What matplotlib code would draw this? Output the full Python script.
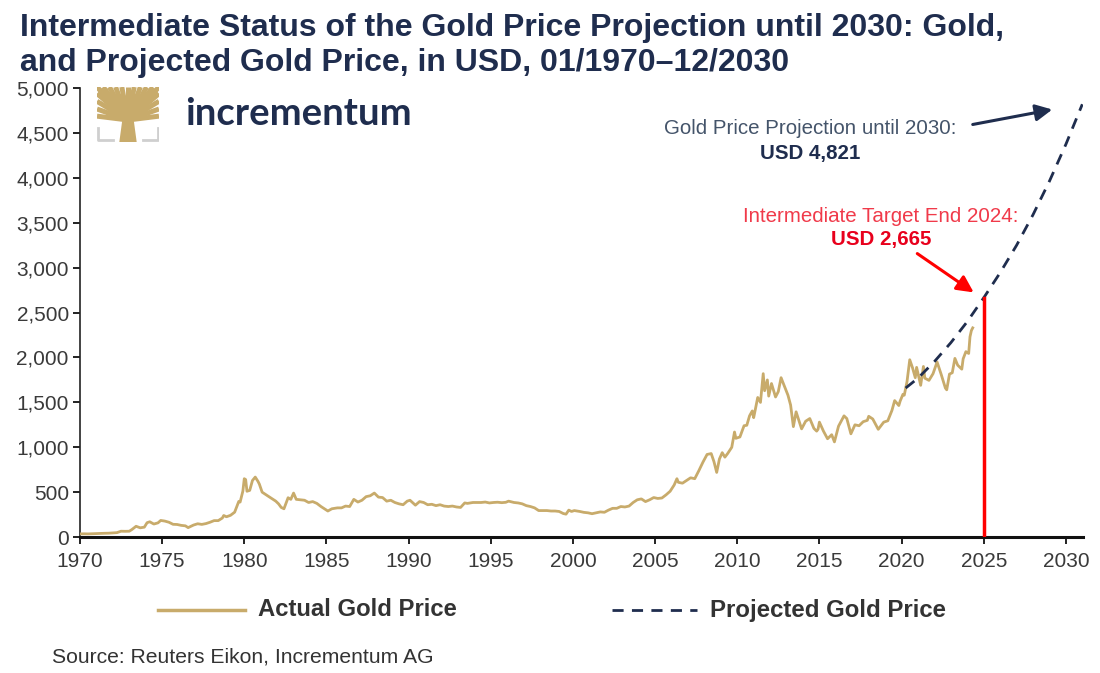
import matplotlib
matplotlib.use("Agg")
import matplotlib.pyplot as plt
from matplotlib.patches import Polygon, Rectangle
from matplotlib.lines import Line2D
import pandas as pd

# ---------------- data ----------------
gold_months = [
    "1970-01", "1970-04", "1970-07", "1970-10",
    "1971-01", "1971-04", "1971-07", "1971-10",
    "1972-01", "1972-04", "1972-07", "1972-10",
    "1973-01", "1973-03", "1973-06", "1973-09", "1973-12",
    "1974-02", "1974-04", "1974-07", "1974-10", "1974-12",
    "1975-03", "1975-06", "1975-09", "1975-12",
    "1976-03", "1976-06", "1976-08", "1976-12",
    "1977-03", "1977-06", "1977-09", "1977-12",
    "1978-03", "1978-06", "1978-09", "1978-10", "1978-12",
    "1979-03", "1979-06", "1979-09", "1979-10", "1979-12",
    "1980-01", "1980-02", "1980-03", "1980-05", "1980-07", "1980-09", "1980-11", "1980-12",
    "1981-02", "1981-04", "1981-06", "1981-09", "1981-12",
    "1982-02", "1982-04", "1982-06", "1982-09", "1982-11",
    "1983-01", "1983-03", "1983-06", "1983-09", "1983-12",
    "1984-03", "1984-06", "1984-09", "1984-12",
    "1985-02", "1985-05", "1985-09", "1985-12",
    "1986-03", "1986-06", "1986-09", "1986-12",
    "1987-03", "1987-06", "1987-09", "1987-12",
    "1988-03", "1988-06", "1988-09", "1988-12",
    "1989-03", "1989-06", "1989-09", "1989-12",
    "1990-02", "1990-06", "1990-09", "1990-12",
    "1991-03", "1991-06", "1991-09", "1991-12",
    "1992-03", "1992-06", "1992-09", "1992-12",
    "1993-03", "1993-06", "1993-08", "1993-12",
    "1994-03", "1994-06", "1994-09", "1994-12",
    "1995-03", "1995-06", "1995-09", "1995-12",
    "1996-02", "1996-06", "1996-09", "1996-12",
    "1997-03", "1997-06", "1997-09", "1997-12",
    "1998-03", "1998-06", "1998-09", "1998-12",
    "1999-03", "1999-06", "1999-08", "1999-10", "1999-12",
    "2000-02", "2000-06", "2000-09", "2000-12",
    "2001-03", "2001-06", "2001-09", "2001-12",
    "2002-03", "2002-06", "2002-09", "2002-12",
    "2003-03", "2003-06", "2003-09", "2003-12",
    "2004-03", "2004-06", "2004-09", "2004-12",
    "2005-03", "2005-06", "2005-09", "2005-12",
    "2006-03", "2006-05", "2006-06", "2006-09", "2006-12",
    "2007-03", "2007-06", "2007-09", "2007-12",
    "2008-03", "2008-06", "2008-08", "2008-10", "2008-12",
    "2009-02", "2009-04", "2009-06", "2009-09", "2009-11", "2009-12",
    "2010-03", "2010-06", "2010-08", "2010-10", "2010-12",
    "2011-01", "2011-04", "2011-06", "2011-08", "2011-09", "2011-11", "2011-12",
    "2012-02", "2012-05", "2012-07", "2012-09", "2012-12",
    "2013-02", "2013-04", "2013-06", "2013-08", "2013-12",
    "2014-03", "2014-06", "2014-09", "2014-11", "2014-12",
    "2015-01", "2015-04", "2015-07", "2015-10", "2015-12",
    "2016-03", "2016-07", "2016-09", "2016-12",
    "2017-03", "2017-06", "2017-09", "2017-12",
    "2018-01", "2018-04", "2018-08", "2018-12",
    "2019-03", "2019-06", "2019-08", "2019-11", "2019-12",
    "2020-02", "2020-03", "2020-05", "2020-07", "2020-09", "2020-11", "2020-12",
    "2021-03", "2021-05", "2021-06", "2021-09", "2021-12",
    "2022-03", "2022-06", "2022-09", "2022-10", "2022-12",
    "2023-02", "2023-04", "2023-06", "2023-09", "2023-10", "2023-12",
    "2024-02", "2024-03", "2024-04", "2024-05",
]
gold_usd = [
    35, 36, 35, 37,
    38, 40, 42, 43,
    46, 49, 65, 64,
    65, 84, 120, 103, 110,
    160, 170, 145, 158, 185,
    178, 165, 142, 140,
    130, 125, 105, 134,
    148, 141, 150, 165,
    183, 183, 212, 240, 226,
    242, 277, 397, 390, 512,
    650, 640, 510, 520, 630, 668, 620, 590,
    500, 480, 460, 430, 400,
    370, 330, 315, 438, 420,
    490, 420, 415, 410, 385,
    395, 375, 340, 310,
    290, 315, 325, 325,
    345, 340, 420, 390,
    410, 450, 460, 490,
    445, 440, 400, 410,
    385, 370, 360, 400,
    410, 355, 395, 385,
    360, 365, 350, 360,
    345, 340, 345, 335,
    330, 380, 375, 385,
    385, 385, 390, 380,
    385, 388, 383, 387,
    400, 385, 380, 370,
    350, 340, 325, 295,
    295, 295, 290, 290,
    285, 262, 255, 300, 285,
    295, 285, 275, 270,
    260, 270, 280, 276,
    300, 320, 320, 340,
    335, 345, 385, 415,
    425, 395, 415, 440,
    430, 435, 470, 510,
    580, 650, 610, 600, 630,
    660, 650, 740, 835,
    920, 930, 840, 720, 870,
    940, 890, 930, 1000, 1170, 1100,
    1115, 1240, 1245, 1350, 1405,
    1330, 1555, 1500, 1820, 1630, 1750, 1570,
    1710, 1560, 1620, 1775, 1660,
    1580, 1470, 1230, 1395, 1205,
    1290, 1320, 1210, 1180, 1200,
    1280, 1180, 1095, 1140, 1060,
    1235, 1350, 1320, 1150,
    1250, 1240, 1285, 1300,
    1345, 1315, 1200, 1280,
    1295, 1410, 1520, 1465, 1515,
    1590, 1580, 1730, 1975, 1885, 1775, 1890,
    1690, 1900, 1770, 1745, 1820,
    1950, 1810, 1660, 1640, 1815,
    1830, 1990, 1915, 1870, 1985, 2065,
    2045, 2230, 2300, 2330,
]

proj_months = ["2020-04", "2021-01", "2022-01", "2023-01", "2024-01", "2025-01",
               "2026-01", "2027-01", "2028-01", "2029-01", "2030-01", "2031-01"]
proj_usd = [1660, 1770, 1955, 2165, 2400, 2665, 2945, 3250, 3590, 3965, 4375, 4821]

target_date = "2025-01"
target_value = 2665

x_tick_years = list(range(1970, 2031, 5))
y_ticks = list(range(0, 5001, 500))

# ---------------- style ----------------
NAVY = "#1f2d4e"
GOLD = "#c8ab6b"
RED = "#ff0000"
SANS = ["Liberation Sans", "DejaVu Sans"]

fig = plt.figure(figsize=(11, 6.73), dpi=100)
ax = fig.add_axes([0.0727, 0.202, 0.9118, 0.667])

gd = pd.to_datetime(gold_months)
pdt = pd.to_datetime(proj_months)

ax.plot(gd, gold_usd, color=GOLD, lw=2.0, solid_joinstyle="round", zorder=3)
ax.plot(pdt, proj_usd, color=NAVY, lw=2.0, linestyle=(0, (4, 3)), zorder=4)
td = pd.Timestamp(target_date)
ax.plot([td, td], [0, target_value], color=RED, lw=2.5, zorder=5)

ax.set_xlim(pd.Timestamp("1970-01-01"), pd.Timestamp("2031-01-15"))
ax.set_ylim(0, 5000)
ax.set_xticks([pd.Timestamp(f"{y}-01-01") for y in x_tick_years])
ax.set_xticklabels([str(y) for y in x_tick_years])
ax.set_yticks(y_ticks)
ax.set_yticklabels([f"{v:,}" for v in y_ticks])

for s in ["top", "right"]:
    ax.spines[s].set_visible(False)
ax.spines["left"].set_color("#222222")
ax.spines["left"].set_linewidth(1.2)
ax.spines["bottom"].set_color("#111111")
ax.spines["bottom"].set_linewidth(2.2)
ax.tick_params(axis="both", direction="out", color="#222222", width=1.4,
               labelcolor="#3a3a3a", length=5)
ax.tick_params(axis="x", pad=6)
ax.tick_params(axis="y", pad=3)
for lab in ax.get_xticklabels() + ax.get_yticklabels():
    lab.set_family(SANS)
    lab.set_fontsize(15)

# ---------------- title ----------------
fig.text(0.018, 0.958, "Intermediate Status of the Gold Price Projection until 2030: Gold,",
         family=SANS, fontsize=23, fontweight="bold", color=NAVY, va="center", ha="left")
fig.text(0.018, 0.906, "and Projected Gold Price, in USD, 01/1970\u201312/2030",
         family=SANS, fontsize=23, fontweight="bold", color=NAVY, va="center", ha="left")

# ---------------- logo ----------------
lax = fig.add_axes([97 / 1100, 1 - 142 / 673, 62 / 1100, 55 / 673])
lax.set_xlim(0, 1)
lax.set_ylim(0, 1)
lax.axis("off")
clip = Rectangle((0.0, 0.3), 1.0, 0.7, transform=lax.transData, fill=False, lw=0)
lax.add_patch(clip)
hub = (0.5, 0.4)
ends = [(0.0, 1.0), (0.1, 1.0), (0.2, 1.0), (0.3, 1.0), (0.4, 1.0), (0.5, 1.0),
        (0.6, 1.0), (0.7, 1.0), (0.8, 1.0), (0.9, 1.0), (1.0, 1.0),
        (0.0, 0.88), (1.0, 0.88), (0.0, 0.74), (1.0, 0.74),
        (0.0, 0.6), (1.0, 0.6), (0.0, 0.47), (1.0, 0.47)]
for ex, ey in ends:
    ln, = lax.plot([hub[0], ex], [hub[1], ey], color=GOLD, lw=3.6, solid_capstyle="butt")
    ln.set_clip_path(clip)
lax.add_patch(Polygon([[0.36, 0.0], [0.64, 0.0], [0.58, 0.5], [0.42, 0.5]], color=GOLD, lw=0))
lax.plot([0.02, 0.02, 0.26], [0.26, 0.03, 0.03], color="#cfcfcf", lw=2)
lax.plot([0.98, 0.98, 0.74], [0.26, 0.03, 0.03], color="#cfcfcf", lw=2)
fig.text(185 / 1100, 1 - 114 / 673, "incrementum", family=["Lato", "DejaVu Sans"],
         fontsize=27.5, fontweight="bold", color=NAVY, va="center", ha="left")

# ---------------- annotations ----------------
fig.text(810 / 1100, 1 - 129 / 673, "Gold Price Projection until 2030:", family=SANS,
         fontsize=14.8, color="#44546a", ha="center", va="center")
fig.text(810 / 1100, 1 - 153 / 673, "USD 4,821", family=SANS, fontsize=14.8,
         fontweight="bold", color=NAVY, ha="center", va="center")
ax.annotate("", xy=(1055 / 1100, 1 - 109 / 673), xycoords="figure fraction",
            xytext=(970 / 1100, 1 - 125 / 673), textcoords="figure fraction",
            arrowprops=dict(arrowstyle="-|>,head_length=1.0,head_width=0.5",
                            color=NAVY, lw=2.2))

fig.text(881 / 1100, 1 - 216 / 673, "Intermediate Target End 2024:", family=SANS,
         fontsize=14.8, color="#f03a4a", ha="center", va="center")
fig.text(881 / 1100, 1 - 239 / 673, "USD 2,665", family=SANS, fontsize=14.8,
         fontweight="bold", color="#e8001c", ha="center", va="center")
ax.annotate("", xy=(976 / 1100, 1 - 294 / 673), xycoords="figure fraction",
            xytext=(915 / 1100, 1 - 252 / 673), textcoords="figure fraction",
            arrowprops=dict(arrowstyle="-|>,head_length=1.0,head_width=0.5",
                            color=RED, lw=2.2))

# ---------------- legend ----------------
fig.add_artist(Line2D([158 / 1100, 245 / 1100], [1 - 610 / 673] * 2, color=GOLD, lw=2.5))
fig.text(258 / 1100, 1 - 610 / 673, "Actual Gold Price", family=SANS, fontsize=17.2,
         fontweight="bold", color="#333333", ha="left", va="center")
fig.add_artist(Line2D([612 / 1100, 697 / 1100], [1 - 610 / 673] * 2, color=NAVY, lw=2,
                      linestyle=(0, (4, 3))))
fig.text(710 / 1100, 1 - 610 / 673, "Projected Gold Price", family=SANS, fontsize=17.3,
         fontweight="bold", color="#333333", ha="left", va="center")

fig.text(52 / 1100, 1 - 657 / 673, "Source: Reuters Eikon, Incrementum AG", family=SANS,
         fontsize=15.2, color="#333333", ha="left", va="center")

fig.savefig("out.png", dpi=100)
